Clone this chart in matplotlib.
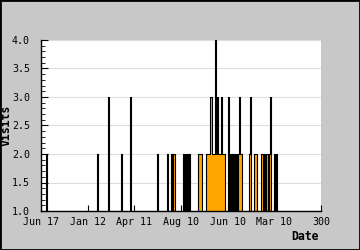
import numpy as np
import matplotlib
matplotlib.use('Agg')
import matplotlib.pyplot as plt
from matplotlib.patches import Rectangle
from matplotlib.ticker import MultipleLocator, FormatStrFormatter

#%% Data (day index -> visits)
visit_days = [6, 61, 72, 86, 96, 125, 136,
              140, 142, 143,
              153, 155, 157, 159,
              169, 170, 171, 172,
              177, 178, 179, 180, 181, 182, 183, 184, 185, 186,
              187, 188, 189, 190, 191, 192, 193,
              194, 195, 196, 197,
              201, 203, 205, 207, 209,
              212, 213, 214, 215,
              223, 224, 225, 229, 230, 231,
              236, 237, 239, 240, 242, 243, 245, 246,
              250, 252]
visit_counts = [2, 2, 3, 2, 3, 2, 2,
                2, 2, 2,
                2, 2, 2, 2,
                2, 2, 2, 2,
                2, 2, 2, 2, 2, 3, 3, 2, 2, 2,
                4, 2, 3, 2, 2, 2, 3,
                2, 2, 2, 2,
                3, 2, 2, 2, 2,
                2, 3, 2, 2,
                2, 3, 2, 2, 2, 2,
                2, 2, 2, 2, 2, 2, 2, 3,
                2, 2]

tick_pos = [0, 50, 100, 150, 200, 250, 300]
tick_labels = ['Jun 17', 'Jan 12', 'Apr 11', 'Aug 10', 'Jun 10', 'Mar 10', '300']

# full series, days without visits stay at 0
days = np.arange(0, 301)
vals = np.zeros(len(days))
vals[visit_days] = visit_counts

mono = 'DejaVu Sans Mono'

#%% Plot
fig = plt.figure(figsize=(3.6, 2.5), dpi=100, facecolor='#c8c8c8')
ax = fig.add_axes([41/360, 1-211/250, 280/360, 171/250])
ax.set_facecolor('white')

ax.fill_between(days, vals, step='mid', color='#ffa500', lw=0, zorder=2)
ax.step(days, vals, where='mid', color='black', lw=0.8, zorder=3)

ax.set_xlim(0, 300)
ax.set_ylim(1, 4)
ax.set_xticks(tick_pos)
ax.set_xticklabels(tick_labels)
ax.yaxis.set_major_locator(MultipleLocator(0.5))
ax.yaxis.set_minor_locator(MultipleLocator(0.1))
ax.yaxis.set_major_formatter(FormatStrFormatter('%.1f'))

ax.set_axisbelow(True)
ax.yaxis.grid(True, color='#dddddd', lw=0.8)

ax.spines['top'].set_visible(False)
ax.spines['right'].set_visible(False)
ax.spines['left'].set_linewidth(1)
ax.spines['bottom'].set_linewidth(1)

ax.tick_params(axis='x', which='major', direction='in', length=4, pad=4,
               labelsize=7.2, top=False)
ax.tick_params(axis='y', which='major', direction='in', length=5, pad=8,
               labelsize=7.2, right=False)
ax.tick_params(axis='y', which='minor', direction='in', length=3, right=False)
for lab in ax.get_xticklabels() + ax.get_yticklabels():
    lab.set_family(mono)

# the y label position is its right edge (text is turned 90 degrees)
ax.set_ylabel('Visits', family=mono, fontweight='bold', fontsize=8.3)
ax.yaxis.set_label_coords(-0.1, 0.5)
fig.text(319/360, 1-236/250, 'Date', family=mono, fontweight='bold',
         fontsize=8.3, ha='right', va='center')

# black frame round the image
fig.patches.append(Rectangle((0, 0), 1, 1, transform=fig.transFigure,
                             fill=False, edgecolor='black', lw=2))

fig.savefig('out.png', dpi=100, facecolor=fig.get_facecolor())
